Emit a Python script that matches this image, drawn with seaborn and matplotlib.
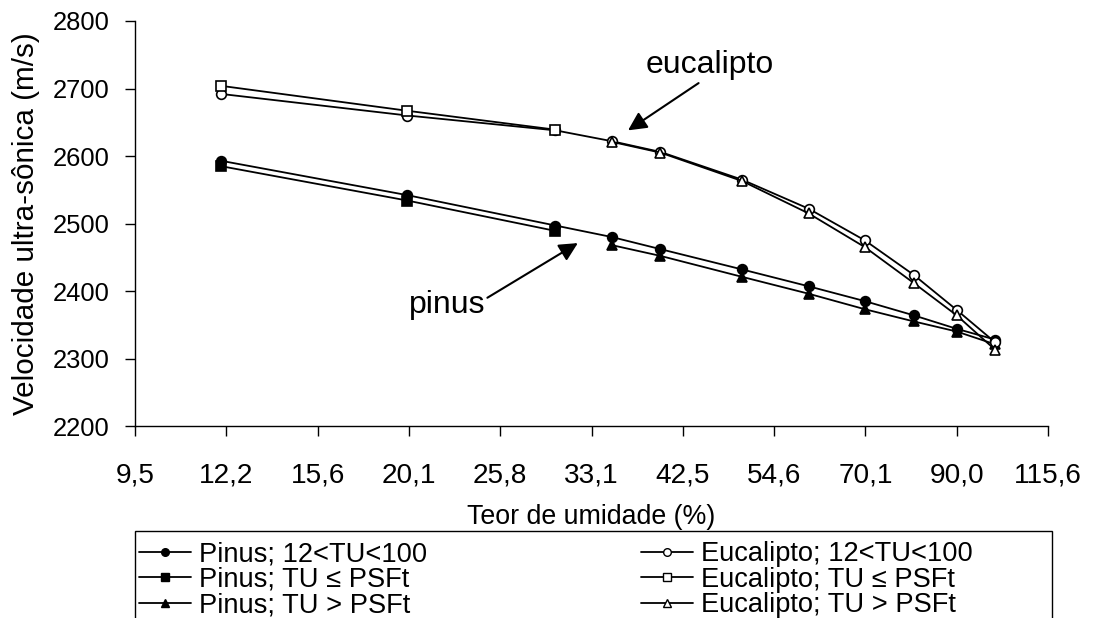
import numpy as np
import pandas as pd
import matplotlib
matplotlib.use("Agg")
import matplotlib.pyplot as plt
import matplotlib.patches as mpatches
from matplotlib.lines import Line2D
import seaborn as sns

# ---- data ----
x_all = [12, 20, 30, 35, 40, 50, 60, 70, 80, 90, 100]
x_le = [12, 20, 30]
x_gt = [35, 40, 50, 60, 70, 80, 90, 100]

pinus_all = [2593, 2542, 2497, 2480, 2462, 2432, 2407, 2385, 2364, 2344, 2328]
pinus_le = [2585, 2534, 2489]
pinus_gt = [2468, 2452, 2421, 2396, 2373, 2355, 2340, 2321]

euc_all = [2692, 2660, 2638, 2622, 2606, 2565, 2522, 2475, 2424, 2372, 2324]
euc_le = [2704, 2667, 2639]
euc_gt = [2621, 2605, 2563, 2515, 2465, 2412, 2364, 2313]

labels = ["Pinus; 12<TU<100", "Pinus; TU ≤ PSFt", "Pinus; TU > PSFt",
          "Eucalipto; 12<TU<100", "Eucalipto; TU ≤ PSFt", "Eucalipto; TU > PSFt"]

x_ticklabels = ["9,5", "12,2", "15,6", "20,1", "25,8", "33,1", "42,5",
                "54,6", "70,1", "90,0", "115,6"]
y_ticks = [2200, 2300, 2400, 2500, 2600, 2700, 2800]

# annotation anchors (data coordinates): label, text pos, arrow tail, arrow head
annotations = [
    ("eucalipto", (45.8, 2735), (44.4, 2708), (36.6, 2638)),
    ("pinus", (22.3, 2379), (24.9, 2390), (31.9, 2471)),
]

series = [
    (x_all, pinus_all, labels[0], "o", "black"),
    (x_le, pinus_le, labels[1], "s", "black"),
    (x_gt, pinus_gt, labels[2], "^", "black"),
    (x_all, euc_all, labels[3], "o", "white"),
    (x_le, euc_le, labels[4], "s", "white"),
    (x_gt, euc_gt, labels[5], "^", "white"),
]

sns.set_theme(style="white")
plt.rcParams['font.family'] = ['Liberation Sans', 'DejaVu Sans']
plt.rcParams['text.color'] = 'black'
FS_Y = 18.4
FS_X = 20.2
FS_LEG = 19.6

fig = plt.figure(figsize=(11.06, 6.18), dpi=100)
ax = fig.add_axes([135/1106, 1-426/618, (1048-135)/1106, (426-21)/618])

handles = []
for xs, ys, lab, mk, fc in series:
    df = pd.DataFrame({"x": xs, "y": ys})
    sns.lineplot(data=df, x="x", y="y", ax=ax, color="black", lw=1.3,
                 marker=mk, markersize=7 if mk != "s" else 6.5,
                 markerfacecolor=fc, markeredgecolor="black",
                 markeredgewidth=1.2, legend=False, sort=False)
    handles.append(Line2D([], [], color="black", lw=1.3, marker=mk,
                          markersize=5.5, markerfacecolor=fc,
                          markeredgecolor="black", markeredgewidth=1.0,
                          label=lab))

ax.set_xscale("log", base=np.e)
tick_pos = np.exp(np.arange(len(x_ticklabels)) * 0.25 + 2.25)
ax.set_xlim(tick_pos[0], tick_pos[-1])
ax.set_xticks(tick_pos)
ax.set_xticklabels(x_ticklabels)
ax.xaxis.set_minor_locator(matplotlib.ticker.NullLocator())
ax.set_ylim(2200, 2800)
ax.set_yticks(y_ticks)
ax.set_yticklabels([str(v) for v in y_ticks])

for s in ["top", "right"]:
    ax.spines[s].set_visible(False)
for s in ["left", "bottom"]:
    ax.spines[s].set_color("black")
    ax.spines[s].set_linewidth(1.0)
ax.grid(False)
ax.tick_params(axis="both", which="major", direction="out", length=7,
               width=1, color="black", labelcolor="black",
               bottom=True, left=True)
ax.tick_params(axis="y", pad=11, labelsize=FS_Y)
ax.tick_params(axis="x", pad=19.5, labelsize=FS_X)

ax.set_xlabel("Teor de umidade (%)", fontsize=19.3, color="black")
ax.set_ylabel("Velocidade ultra-sônica (m/s)", fontsize=21.3, color="black")
ax.xaxis.set_label_coords(0.5, -0.193)
ax.yaxis.set_label_coords(-0.104, 0.5)

# annotations
for txt, tpos, tail, head in annotations:
    ax.text(tpos[0], tpos[1], txt, fontsize=23, ha="center", va="center",
            color="black")
    ax.annotate("", xy=head, xytext=tail,
                arrowprops=dict(arrowstyle="-|>", color="black", lw=1.5,
                                mutation_scale=28, shrinkA=0, shrinkB=0))

# legend
leg = fig.legend(handles=handles, ncol=2, loc="upper left",
                 bbox_to_anchor=(131/1106, 1-533/618), frameon=False,
                 fontsize=FS_LEG, handlelength=1.9, handletextpad=0.3,
                 labelspacing=-0.02, columnspacing=7.87, borderpad=0.3,
                 borderaxespad=0)
for t in leg.get_texts():
    t.set_color("black")
rect = mpatches.Rectangle((135/1106, -0.05), (1052-135)/1106,
                          (1-531/618) + 0.05, transform=fig.transFigure,
                          fill=False, edgecolor="black", lw=1.0,
                          clip_on=False)
fig.patches.append(rect)

fig.savefig("out.png", dpi=100, facecolor="white")
